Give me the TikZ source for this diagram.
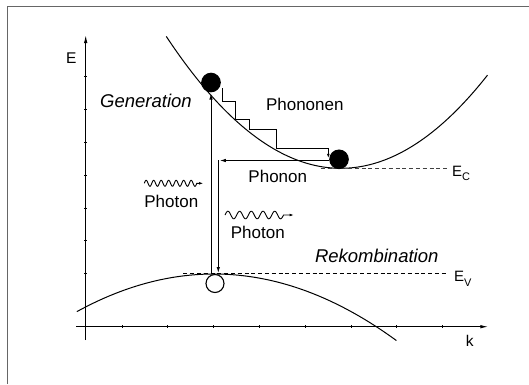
\documentclass[tikz,border=0pt]{standalone}
\usepackage{fontspec}
\setmainfont{Liberation Sans}
\usetikzlibrary{arrows.meta}
\begin{document}
\begin{tikzpicture}[x=1pt,y=-1pt,line width=1pt,
  lbl/.style={font=\fontsize{17}{17}\selectfont,inner sep=0pt,anchor=base},
  ilbl/.style={font=\itshape\fontsize{18.5}{18.5}\selectfont,inner sep=0pt,anchor=base},
  albl/.style={font=\fontsize{15.5}{15.5}\selectfont,inner sep=0pt,anchor=base},
  elbl/.style={font=\fontsize{15}{15}\selectfont,inner sep=0pt,anchor=base west},
  axisarrow/.style={-{Latex[length=8pt,width=3.5pt]}},
  bigarrow/.style={-{Latex[length=6pt,width=3.5pt]}},
  smallarrow/.style={-{Latex[length=4.5pt,width=2.8pt]}},
  dashline/.style={line width=0.8pt,dash pattern=on 4pt off 2.8pt},
  electron/.style={circle,fill=black,draw=black,inner sep=0pt,minimum size=18.6pt},
  hole/.style={circle,fill=white,draw=black,line width=1.1pt,inner sep=0pt,minimum size=18pt},
  tick/.style={line width=0.7pt}]
\useasboundingbox (0,0) rectangle (529,384);
% frame
\draw[black!60,line width=1.4pt] (7.3,384) -- (7.3,6.3) -- (529,6.3);
% axes
\coordinate (Eb) at (85.7,340);
\coordinate (Et) at (85.7,35);
\coordinate (kl) at (76,326.7);
\coordinate (kr) at (488.3,326.7);
\draw[axisarrow] (Eb) -- (Et);
\draw[axisarrow] (kl) -- (kr);
\foreach \y in {76.7,109.3,142.3,175,208,240.7,273.7}
  \draw[tick] (84.2,\y) -- (87.2,\y);
\foreach \x in {122,167.7,213.2,259,305,350.9,396.8,442.3}
  \draw[tick] (\x,325.2) -- (\x,328.2);
\node[albl] (Elab) at (71.3,63.3) {E};
\node[albl] (klab) at (469.8,346.7) {k};
% bands
\draw plot[domain=166.3:487.5,samples=120] (\x,{168.3-43.3*((\x-340.8)/100)^2});
\draw plot[domain=76.9:396.4,samples=120] (\x,{274+20*((\x-214)/100)^2});
% band edges
\coordinate (Ecl) at (320.7,168.3); \coordinate (Ecr) at (446.7,168.3);
\coordinate (Evl) at (183.3,273.8); \coordinate (Evr) at (447.3,273.8);
\draw[dashline,black!75] (Ecl) -- (Ecr);
\draw[dashline] (Evl) -- (Evr);
\node[elbl] (EC) at (451.7,176) {E\raisebox{-4.7pt}{\fontsize{11}{11}\selectfont C}};
\node[elbl] (EV) at (453.5,281.7) {E\raisebox{-4.7pt}{\fontsize{11}{11}\selectfont V}};
% particles
\node[electron] (e1) at (211,82.5) {};
\node[electron] (e2) at (339,159.3) {};
\node[hole] (h) at (215,283.5) {};
% generation
\coordinate (g0) at (211,274);
\coordinate (g1) at (211,93.5);
\draw[bigarrow] (g0) -- (g1);
% phonon cascade
\coordinate (s0) at (222,88.3);
\coordinate (s1) at (328.3,158.3);
\draw[smallarrow] (s0) -- (222,101) -- (235.5,101) -- (235.5,119.3) -- (249.3,119.3)
  -- (249.3,129.3) -- (276.7,129.3) -- (276.7,148.7) -- (328.3,148.7) -- (s1);
% recombination
\coordinate (r0) at (328.5,160.5);
\coordinate (r1) at (219.8,160.5);
\coordinate (r2) at (218.3,160);
\coordinate (r3) at (218.3,273);
\draw[bigarrow] (r0) -- (r1);
\draw[bigarrow] (r2) -- (r3);
% photons
\coordinate (p1) at (203.5,183.3);
\draw[smallarrow,line width=0.9pt] plot[domain=0:52.5,samples=140] ({144.3+\x},{183.3-3*sin(\x*48)}) -- (p1);
\coordinate (p2) at (294,215);
\draw[smallarrow,line width=0.9pt] plot[domain=0:58.5,samples=140] ({225+\x},{215-3.8*sin(\x*30.77)}) -- (p2);
% labels
\node[ilbl] (gen) at (146,107) {Generation};
\node[ilbl] (rek) at (376.7,262) {Rekombination};
\node[lbl] (phn) at (304.8,110.7) {Phononen};
\node[lbl] (ph) at (277.8,182.7) {Phonon};
\node[lbl] (pt1) at (171.3,207.7) {Photon};
\node[lbl] (pt2) at (257.8,238.3) {Photon};
\end{tikzpicture}
\end{document}
